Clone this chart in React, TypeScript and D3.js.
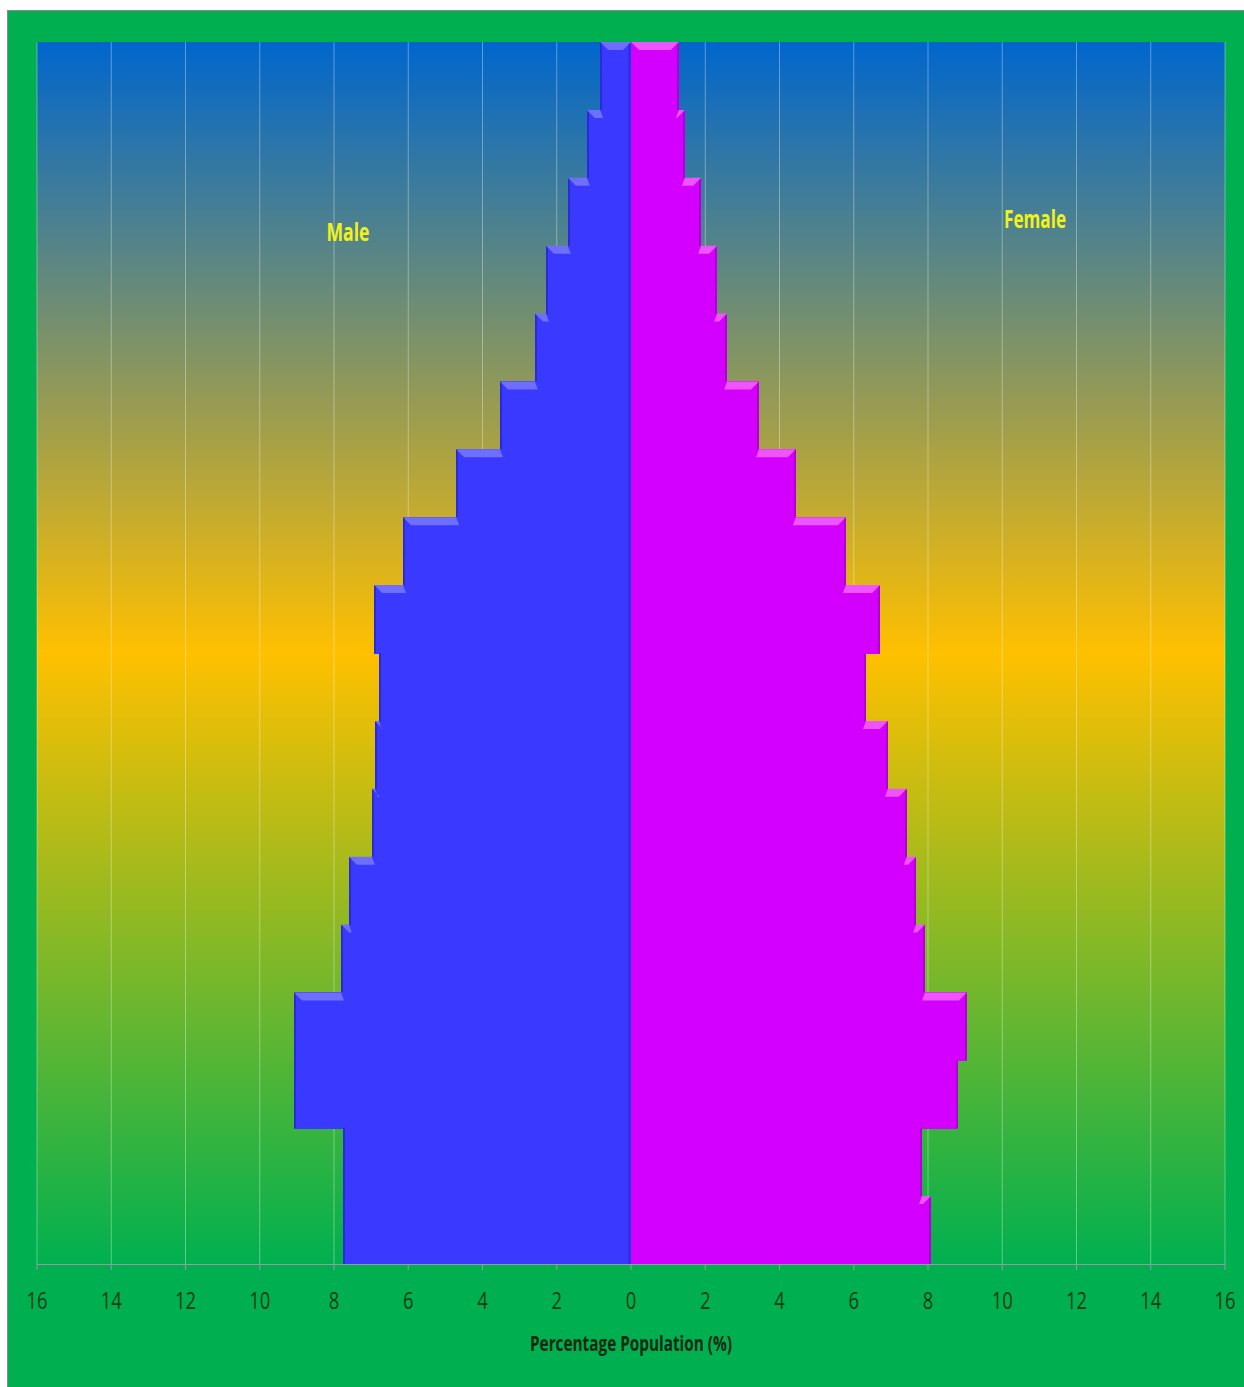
import React from "react";
import * as d3 from "d3";

const ageGroups = ["85+", "80-84", "75-79", "70-74", "65-69", "60-64", "55-59", "50-54", "45-49", "40-44", "35-39", "30-34", "25-29", "20-24", "15-19", "10-14", "5-9", "0-4"];
const maleValues = [0.83, 1.19, 1.7, 2.29, 2.59, 3.53, 4.71, 6.14, 6.92, 6.79, 6.9, 6.98, 7.6, 7.81, 9.08, 9.08, 7.76, 7.76];
const femaleValues = [1.29, 1.45, 1.89, 2.32, 2.59, 3.45, 4.44, 5.79, 6.71, 6.33, 6.92, 7.43, 7.68, 7.92, 9.05, 8.81, 7.84, 8.08];
const tickValues = [-16, -14, -12, -10, -8, -6, -4, -2, 0, 2, 4, 6, 8, 10, 12, 14, 16];
const maleLabel = "Male";
const femaleLabel = "Female";
const axisTitle = "Percentage Population (%)";

const W = 1244;
const H = 1387;
const plot = { left: 37, right: 1225, top: 42, bottom: 1264 };
const FONT = "'Open Sans', 'Liberation Sans', sans-serif";
const MALE = "#3939ff";
const MALE_BEVEL = "#6f6fff";
const MALE_EDGE = "#2a2ad6";
const FEMALE = "#d400ff";
const FEMALE_BEVEL = "#ee55ff";
const FEMALE_EDGE = "#b000d6";
const BEV = 8;

export default function App() {
  const x = d3.scaleLinear().domain([-16, 16]).range([plot.left, plot.right]);
  const y = d3.scaleBand<string>().domain(ageGroups).range([plot.top, plot.bottom]).padding(0);
  const bw = y.bandwidth();
  const x0 = x(0);

  const bars: React.ReactNode[] = [];
  ageGroups.forEach((g, i) => {
    const top = y(g)!;
    const mL = x(-maleValues[i]);
    const fR = x(femaleValues[i]);
    bars.push(
      <g key={"b" + g} shapeRendering="crispEdges">
        <rect x={mL} y={top} width={x0 - mL} height={bw + 0.6} fill={MALE} />
        <rect x={x0} y={top} width={fR - x0} height={bw + 0.6} fill={FEMALE} />
        <rect x={mL} y={top} width={2} height={bw} fill={MALE_EDGE} />
        <rect x={fR - 2} y={top} width={2} height={bw} fill={FEMALE_EDGE} />
        <rect x={x0 - 3} y={top} width={3} height={bw + 0.6} fill={MALE_EDGE} opacity={0.6} />
      </g>
    );
  });
  const bevels: React.ReactNode[] = [];
  ageGroups.forEach((g, i) => {
    const top = y(g)!;
    const mL = x(-maleValues[i]);
    const fR = x(femaleValues[i]);
    const mInner = i === 0 ? x0 : x(-maleValues[i - 1]);
    const fInner = i === 0 ? x0 : x(femaleValues[i - 1]);
    if (mInner - mL > 2) {
      const innerB = i === 0 ? mInner - BEV : mInner + 3;
      bevels.push(
        <polygon key={"mb" + g} fill={MALE_BEVEL}
          points={`${mL},${top} ${mInner},${top} ${innerB},${top + BEV} ${mL + BEV},${top + BEV}`} />
      );
    }
    if (fR - fInner > 2) {
      const innerB = i === 0 ? fInner + BEV : fInner - 3;
      bevels.push(
        <polygon key={"fb" + g} fill={FEMALE_BEVEL}
          points={`${fInner},${top} ${fR},${top} ${fR - BEV},${top + BEV} ${innerB},${top + BEV}`} />
      );
    }
  });

  return (
    <svg width={W} height={H} style={{ position: "absolute", left: 0, top: 0, display: "block" }}>
      <defs>
        <linearGradient id="bg" x1="0" y1="0" x2="0" y2="1">
          <stop offset="0" stopColor="#0066cc" />
          <stop offset="0.5" stopColor="#ffc000" />
          <stop offset="1" stopColor="#00b050" />
        </linearGradient>
      </defs>
      <rect x={0} y={0} width={W} height={H} fill="#ffffff" />
      <rect x={7.5} y={10.5} width={W - 7} height={H - 10} fill="#00b050" stroke="#8a8a8a" strokeWidth={1} />
      <rect x={plot.left} y={plot.top} width={plot.right - plot.left} height={plot.bottom - plot.top} fill="url(#bg)" />
      {tickValues.map((t) => (
        <line key={"g" + t} x1={x(t)} x2={x(t)} y1={plot.top} y2={plot.bottom} stroke="#ffffff" strokeOpacity={0.35} strokeWidth={1} />
      ))}
      {bars}
      {bevels}
      <line x1={plot.left} x2={plot.right} y1={plot.bottom + 0.5} y2={plot.bottom + 0.5} stroke="#9a9a9a" strokeWidth={1} />
      {tickValues.map((t) => (
        <line key={"tk" + t} x1={x(t)} x2={x(t)} y1={plot.bottom} y2={plot.bottom + 6} stroke="#9a9a9a" strokeWidth={1} />
      ))}
      {tickValues.map((t) => (
        <text key={"tl" + t} transform={`translate(${x(t)},1309) scale(0.8,1)`} textAnchor="middle" fontFamily={FONT} fontSize={23} fill="#0e3d12">
          {Math.abs(t)}
        </text>
      ))}
      <text x={x0} y={1351} textAnchor="middle" fontFamily={FONT} fontSize={22} fontWeight="bold" fill="#0e2a10"
        textLength={202} lengthAdjust="spacingAndGlyphs">
        {axisTitle}
      </text>
      <text x={348} y={241} textAnchor="middle" fontFamily={FONT} fontSize={25} fontWeight="bold" fill="#f2f21a"
        textLength={43} lengthAdjust="spacingAndGlyphs">
        {maleLabel}
      </text>
      <text x={1035} y={228} textAnchor="middle" fontFamily={FONT} fontSize={25} fontWeight="bold" fill="#f2f21a"
        textLength={62} lengthAdjust="spacingAndGlyphs">
        {femaleLabel}
      </text>
    </svg>
  );
}
